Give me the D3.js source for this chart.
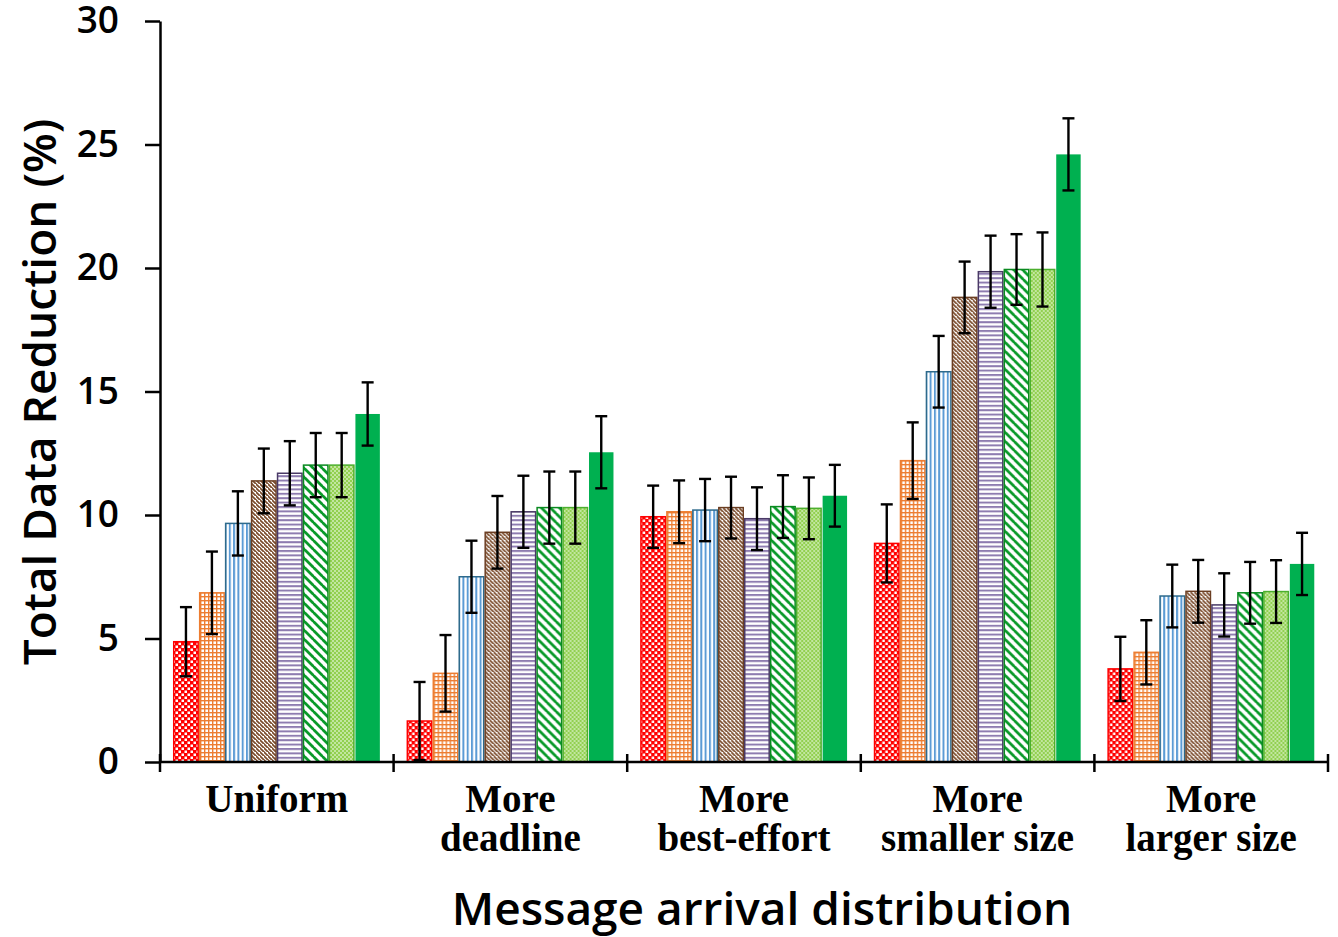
<!DOCTYPE html>
<html>
<head>
<meta charset="utf-8">
<script src="https://cdn.jsdelivr.net/npm/d3@7"></script>
<style>
  html, body { margin: 0; padding: 0; background: #fff; }
  svg { display: block; }
</style>
</head>
<body>
<svg id="chart" width="1338" height="937"></svg>
<script>
// ---- Data ----
const categories = [["Uniform"], ["More", "deadline"], ["More", "best-effort"], ["More", "smaller size"], ["More", "larger size"]];
const seriesNames = ["S1", "S2", "S3", "S4", "S5", "S6", "S7", "S8"];
const values = [
  [4.87, 6.85, 9.66, 11.38, 11.69, 12.02, 12.02, 14.09],
  [1.66, 3.59, 7.50, 9.30, 10.13, 10.30, 10.30, 12.54],
  [9.93, 10.13, 10.20, 10.30, 9.85, 10.34, 10.27, 10.78],
  [8.85, 12.20, 15.80, 18.81, 19.85, 19.94, 19.94, 24.60],
  [3.77, 4.44, 6.72, 6.91, 6.36, 6.85, 6.90, 8.02]
];
const errors = [
  [1.40, 1.67, 1.30, 1.31, 1.30, 1.30, 1.30, 1.28],
  [1.58, 1.55, 1.46, 1.47, 1.46, 1.46, 1.46, 1.46],
  [1.26, 1.27, 1.26, 1.25, 1.27, 1.27, 1.25, 1.25],
  [1.58, 1.55, 1.45, 1.45, 1.46, 1.43, 1.50, 1.46],
  [1.30, 1.30, 1.27, 1.27, 1.28, 1.25, 1.27, 1.26]
];
const yTicks = [0, 5, 10, 15, 20, 25, 30];
const yTitle = "Total Data Reduction (%)";
const xTitle = "Message arrival distribution";

// ---- Setup ----
const svg = d3.select("#chart");
const mLeft = 160, mRight = 1328, mTop = 21, mBottom = 762;

const x0 = d3.scaleBand().domain(d3.range(categories.length)).range([mLeft, mRight]).paddingInner(0).paddingOuter(0);
const x1 = d3.scaleBand().domain(d3.range(seriesNames.length)).range([0, x0.bandwidth()]).paddingInner(0).paddingOuter(0.5);
const y = d3.scaleLinear().domain([0, 30]).range([mBottom, mTop]);

// ---- Patterns ----
const defs = svg.append("defs");
function pat(id, w, h, build) {
  const p = defs.append("pattern").attr("id", id).attr("patternUnits", "userSpaceOnUse")
    .attr("width", w).attr("height", h);
  build(p);
}
// 1 red checkerboard
pat("p0", 6, 6, p => {
  p.append("rect").attr("width", 6).attr("height", 6).attr("fill", "#ff0000");
  p.append("rect").attr("x", 0.5).attr("y", 0.5).attr("width", 2.5).attr("height", 2.5).attr("fill", "#fff");
  p.append("rect").attr("x", 3.5).attr("y", 3.5).attr("width", 2.5).attr("height", 2.5).attr("fill", "#fff");
});
// 2 orange grid
pat("p1", 4, 4, p => {
  p.append("rect").attr("width", 4).attr("height", 4).attr("fill", "#fff");
  p.append("rect").attr("width", 4).attr("height", 1.4).attr("fill", "#ed7d31");
  p.append("rect").attr("width", 1.4).attr("height", 4).attr("fill", "#ed7d31");
});
// 3 blue vertical
pat("p2", 4.3, 4, p => {
  p.append("rect").attr("width", 4.3).attr("height", 4).attr("fill", "#fff");
  p.append("rect").attr("width", 2).attr("height", 4).attr("fill", "#5b9bd5");
});
// 4 brown fine diagonal
pat("p3", 4, 4, p => {
  p.append("rect").attr("width", 4).attr("height", 4).attr("fill", "#fff");
  p.append("path").attr("d", "M-1,-1 L5,5 M-3,1 L1,5 M3,-3 L7,1").attr("stroke", "#7a4a2a").attr("stroke-width", 1.7);
});
// 5 purple horizontal
pat("p4", 4, 4.4, p => {
  p.append("rect").attr("width", 4).attr("height", 4.4).attr("fill", "#fff");
  p.append("rect").attr("width", 4).attr("height", 2).attr("fill", "#8e7cb0");
});
// 6 green wide diagonal
pat("p5", 9, 9, p => {
  p.append("rect").attr("width", 9).attr("height", 9).attr("fill", "#fff");
  p.append("path").attr("d", "M-1,-1 L10,10 M-5.5,3.5 L0.5,9.5 M3.5,-5.5 L9.5,0.5").attr("stroke", "#0a9a2a").attr("stroke-width", 2.8);
});
// 7 light green checker
pat("p6", 4, 4, p => {
  p.append("rect").attr("width", 4).attr("height", 4).attr("fill", "#92d050");
  p.append("rect").attr("x", 0).attr("y", 0).attr("width", 2).attr("height", 2).attr("fill", "#c2e6a0");
  p.append("rect").attr("x", 2).attr("y", 2).attr("width", 2).attr("height", 2).attr("fill", "#c2e6a0");
});

const fills = ["url(#p0)", "url(#p1)", "url(#p2)", "url(#p3)", "url(#p4)", "url(#p5)", "url(#p6)", "#00b050"];
const strokes = ["#ff0000", "#ed7d31", "#2e6a8c", "#6b3e22", "#4a3a66", "#0a8a20", "#4caf2e", "none"];

// ---- Bars ----
const groups = svg.append("g").selectAll("g").data(values).join("g")
  .attr("transform", (d, i) => `translate(${x0(i)},0)`);

groups.selectAll("rect").data(d => d).join("rect")
  .attr("x", (d, j) => x1(j) + 0.75)
  .attr("y", d => y(d))
  .attr("width", x1.bandwidth() - 1.5)
  .attr("height", d => y(0) - y(d))
  .attr("fill", (d, j) => fills[j])
  .attr("stroke", (d, j) => strokes[j])
  .attr("stroke-width", 1.5);

// ---- Error bars ----
const eg = svg.append("g");
values.forEach((row, i) => {
  row.forEach((v, j) => {
    const cx = x0(i) + x1(j) + x1.bandwidth() / 2;
    const e = errors[i][j];
    const yt = y(v + e), yb = y(Math.max(0, v - e));
    eg.append("line").attr("x1", cx).attr("x2", cx).attr("y1", yt).attr("y2", yb)
      .attr("stroke", "#000").attr("stroke-width", 2.4);
    [yt, yb].forEach(yy => eg.append("line").attr("x1", cx - 6).attr("x2", cx + 6)
      .attr("y1", yy).attr("y2", yy).attr("stroke", "#000").attr("stroke-width", 2.4));
  });
});

// ---- Y axis ----
const yAxis = d3.axisLeft(y).tickValues(yTicks).tickSize(15).tickPadding(26).tickSizeOuter(0);
const ya = svg.append("g").attr("transform", `translate(${mLeft},0)`).call(yAxis);
ya.select(".domain").attr("stroke", "#000").attr("stroke-width", 2.5);
ya.selectAll(".tick line").attr("stroke", "#000").attr("stroke-width", 2.5);
ya.selectAll(".tick text").attr("fill", "#000")
  .style("font-family", "'Open Sans', 'Noto Sans', sans-serif")
  .style("font-weight", "600").style("font-size", "37px");

// ---- X axis ----
const boundaries = d3.range(categories.length + 1).map(i => i < categories.length ? x0(i) : mRight);
const xa = svg.append("g");
xa.append("line").attr("x1", mLeft).attr("x2", mRight).attr("y1", mBottom).attr("y2", mBottom)
  .attr("stroke", "#000").attr("stroke-width", 2.5);
xa.selectAll("line.tk").data(boundaries).join("line").attr("class", "tk")
  .attr("x1", d => d).attr("x2", d => d).attr("y1", mBottom - 8).attr("y2", mBottom + 10)
  .attr("stroke", "#000").attr("stroke-width", 2.5);

xa.selectAll("text.cat").data(categories).join("text").attr("class", "cat")
  .attr("x", (d, i) => x0(i) + x0.bandwidth() / 2)
  .attr("y", 812)
  .attr("text-anchor", "middle")
  .style("font-family", "'Liberation Serif', 'Times New Roman', serif")
  .style("font-weight", "bold").style("font-size", "39px")
  .each(function(d) {
    const t = d3.select(this);
    d.forEach((line, k) => t.append("tspan").attr("x", t.attr("x")).attr("dy", k === 0 ? 0 : 39).text(line));
  });

// ---- Titles ----
svg.append("text").attr("x", 762).attr("y", 925).attr("text-anchor", "middle")
  .style("font-family", "'Open Sans', 'Noto Sans', sans-serif").style("font-size", "46px")
  .style("font-weight", "600")
  .text(xTitle);
svg.append("text").attr("transform", "translate(56,392) rotate(-90)").attr("text-anchor", "middle")
  .style("font-family", "'Open Sans', 'Noto Sans', sans-serif").style("font-size", "46px")
  .style("font-weight", "600")
  .text(yTitle);
</script>
</body>
</html>
